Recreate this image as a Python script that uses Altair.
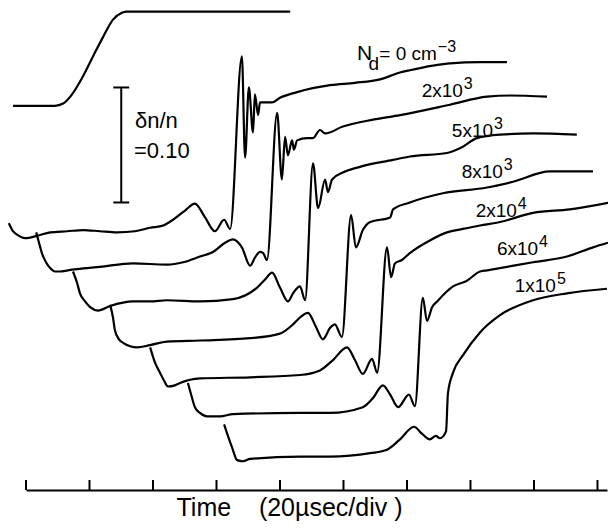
import altair as alt
import pandas as pd

# Time in microseconds (20 us per division), signal in delta n / n,
# each trace displaced vertically as in the original oscillogram stack.

pulse_t = [-4.1, 4.4, 9.1, 11.7, 14.5, 17.6, 21.1, 24.3, 27.4, 30.2, 31.8, 55.0, 83.2]
pulse_s = [0.334, 0.334, 0.334, 0.336, 0.344, 0.358, 0.377, 0.394, 0.409, 0.415, 0.416, 0.416, 0.416]

nd0_t = [-5.4, -4.1, -2.8, -0.3, 3.5, 7.6, 12.9, 18.0, 23.3, 28.7, 34.3, 39.1, 43.2, 46.3, 50.1,
         53.2, 56.4, 59.5, 62.4, 64.3, 68.0, 69.0, 70.2, 71.5, 72.1, 73.1, 73.7, 75.3, 77.5, 80.0,
         85.4, 95.8, 103.6, 111.5, 117.8, 120.9, 128.2, 133.5, 143.0, 151.5]
nd0_s = [0.232, 0.225, 0.222, 0.219, 0.221, 0.224, 0.225, 0.226, 0.225, 0.224, 0.225, 0.228, 0.230,
         0.235, 0.243, 0.249, 0.237, 0.225, 0.235, 0.227, 0.377, 0.289, 0.350, 0.311, 0.344, 0.326,
         0.337, 0.337, 0.337, 0.341, 0.346, 0.352, 0.354, 0.357, 0.363, 0.365, 0.369, 0.371, 0.372,
         0.372]

nd2e3_t = [3.2, 4.1, 5.0, 6.3, 7.6, 9.1, 10.7, 13.2, 16.1, 23.3, 33.7, 44.4, 49.5, 54.8, 58.9,
           62.7, 65.2, 68.0, 70.6, 72.1, 73.7, 74.7, 75.9, 79.1, 80.6, 81.6, 82.5, 83.8, 84.4, 85.4,
           88.5, 90.4, 92.6, 94.2, 99.8, 109.3, 117.8, 133.5, 145.2, 152.4, 164.1]
nd2e3_s = [0.224, 0.215, 0.206, 0.198, 0.193, 0.190, 0.190, 0.191, 0.192, 0.194, 0.197, 0.196,
           0.198, 0.203, 0.207, 0.215, 0.218, 0.211, 0.195, 0.202, 0.207, 0.206, 0.200, 0.328,
           0.270, 0.307, 0.291, 0.304, 0.296, 0.304, 0.306, 0.306, 0.313, 0.310, 0.316, 0.322,
           0.326, 0.335, 0.342, 0.343, 0.342]

nd5e3_t = [14.8, 16.1, 17.0, 18.6, 20.2, 22.7, 26.5, 33.7, 39.1, 44.4, 54.8, 65.2, 72.8, 75.3,
           77.5, 80.0, 82.5, 84.1, 86.3, 87.9, 90.4, 92.0, 94.2, 95.1, 96.4, 99.8, 105.2, 115.6,
           120.9, 132.6, 137.3, 142.0, 149.3, 159.7, 173.5]
nd5e3_s = [0.190, 0.180, 0.171, 0.164, 0.159, 0.156, 0.160, 0.164, 0.164, 0.165, 0.164, 0.166,
           0.176, 0.183, 0.189, 0.176, 0.164, 0.171, 0.177, 0.165, 0.284, 0.245, 0.270, 0.259,
           0.270, 0.276, 0.281, 0.287, 0.290, 0.293, 0.298, 0.306, 0.309, 0.310, 0.309]

nd8e3_t = [26.5, 27.4, 28.0, 29.3, 30.6, 32.8, 35.0, 39.1, 44.4, 54.8, 70.6, 80.0, 84.1, 86.3,
           88.8, 91.3, 93.5, 95.8, 97.3, 99.5, 102.4, 103.9, 106.1, 108.4, 114.7, 115.6, 120.9,
           131.3, 145.2, 153.4, 165.0, 178.6]
nd8e3_s = [0.161, 0.150, 0.139, 0.131, 0.128, 0.125, 0.124, 0.126, 0.129, 0.130, 0.132, 0.136,
           0.144, 0.150, 0.154, 0.142, 0.131, 0.141, 0.144, 0.133, 0.239, 0.211, 0.226, 0.233,
           0.237, 0.244, 0.250, 0.258, 0.263, 0.268, 0.277, 0.277]

nd2e4_t = [39.1, 40.6, 42.2, 43.5, 44.7, 46.9, 48.5, 54.8, 70.6, 86.3, 92.6, 96.7, 101.1, 103.6,
           106.1, 109.0, 110.6, 113.7, 115.0, 116.2, 118.4, 120.9, 127.2, 132.6, 137.6, 143.0,
           149.3, 159.7, 171.3, 183.9]
nd2e4_s = [0.124, 0.111, 0.102, 0.095, 0.090, 0.091, 0.093, 0.097, 0.098, 0.100, 0.104, 0.113,
           0.124, 0.113, 0.101, 0.114, 0.102, 0.211, 0.185, 0.197, 0.200, 0.206, 0.217, 0.224,
           0.227, 0.230, 0.233, 0.241, 0.244, 0.250]

nd6e4_t = [51.0, 52.0, 53.2, 54.8, 57.0, 61.1, 65.2, 86.3, 95.8, 106.1, 109.3, 112.4, 114.7,
           117.2, 120.6, 122.5, 125.0, 126.3, 127.9, 129.5, 134.5, 138.9, 143.0, 145.2, 159.7,
           170.4, 178.6, 183.3]
nd6e4_s = [0.093, 0.083, 0.072, 0.067, 0.064, 0.064, 0.066, 0.067, 0.067, 0.072, 0.080, 0.091,
           0.083, 0.072, 0.083, 0.073, 0.167, 0.147, 0.159, 0.164, 0.177, 0.182, 0.190, 0.191,
           0.198, 0.203, 0.211, 0.215]

nd1e5_t = [62.4, 63.6, 64.9, 66.5, 68.4, 70.6, 86.3, 95.8, 108.4, 113.7, 117.8, 122.2, 124.7,
           127.2, 129.1, 130.4, 132.3, 132.9, 134.5, 137.6, 143.0, 149.3, 159.7, 170.4, 183.0]
nd1e5_s = [0.057, 0.047, 0.037, 0.026, 0.025, 0.027, 0.029, 0.029, 0.032, 0.035, 0.044, 0.055,
           0.049, 0.044, 0.047, 0.045, 0.051, 0.084, 0.102, 0.117, 0.137, 0.152, 0.165, 0.171,
           0.175]

# Trace labels (mantissa, exponent) and their anchor (right end of mantissa, baseline)
label_base = ["= 0 cm", "2x10", "5x10", "8x10", "2x10", "6x10", "1x10"]
label_exp = ["\u22123", "3", "3", "3", "4", "4", "5"]
label_t = [129.4, 137.6, 147.1, 150.2, 154.6, 161.3, 166.9]
label_s = [0.374, 0.342, 0.307, 0.271, 0.237, 0.204, 0.172]

# N_d symbol
sym_text = ["N", "d"]
sym_t = [109.0, 107.9]
sym_s = [0.374, 0.365]

# Scale bar: delta n / n = 0.10
bar_t = 30.0
bar_lo, bar_hi = 0.25, 0.35
bar_cap = 2.5
bar_text = ["\u03b4n/n", "=0.10"]
bar_text_t = [34.3, 34.0]
bar_text_s = [0.315, 0.289]

tick_values = [0, 20, 40, 60, 80, 100, 120, 140, 160, 180]
tick_len = 0.0087
time_max = 183
sig_max = 0.4191

traces = [("pulse", pulse_t, pulse_s), ("0", nd0_t, nd0_s), ("2e3", nd2e3_t, nd2e3_s),
          ("5e3", nd5e3_t, nd5e3_s), ("8e3", nd8e3_t, nd8e3_s), ("2e4", nd2e4_t, nd2e4_s),
          ("6e4", nd6e4_t, nd6e4_s), ("1e5", nd1e5_t, nd1e5_s)]
frames = []
for name, ts, ss in traces:
    f = pd.DataFrame({"t": ts, "s": ss})
    f["trace"] = name
    f["i"] = range(len(f))
    frames.append(f)
df = pd.concat(frames, ignore_index=True)

FONT = "Liberation Sans"
xscale = alt.Scale(domain=[0, time_max], nice=False, zero=False)
yscale = alt.Scale(domain=[0, sig_max], nice=False, zero=False)

xaxis = alt.Axis(title="Time\u00a0\u00a0\u00a0\u00a0(20\u00b5sec/div )", ticks=False, labels=False,
                 grid=False, domain=True, domainColor="black", domainWidth=2,
                 titleFont=FONT, titleFontSize=25, titleFontWeight="normal", titleColor="black",
                 titleX=263, titleY=25, titleAlign="center", titleBaseline="alphabetic")

X = alt.X("t:Q", scale=xscale, axis=xaxis)
Y = alt.Y("s:Q", scale=yscale, axis=None)

lines = alt.Chart(df).mark_line(color="black", strokeWidth=2.2, clip=False,
                                interpolate="monotone", strokeJoin="round").encode(
    x=X, y=Y, detail="trace:N", order="i:Q")

ticks_df = pd.DataFrame({"t": tick_values, "s": [0.0] * len(tick_values),
                         "s2": [tick_len] * len(tick_values)})
ticks = alt.Chart(ticks_df).mark_rule(color="black", strokeWidth=2).encode(
    x=X, y=Y, y2="s2:Q")

bar_v = alt.Chart(pd.DataFrame({"t": [bar_t], "s": [bar_lo], "s2": [bar_hi]})).mark_rule(
    color="black", strokeWidth=2).encode(x=X, y=Y, y2="s2:Q")
bar_caps = alt.Chart(pd.DataFrame({"t": [bar_t - bar_cap] * 2, "t2": [bar_t + bar_cap] * 2,
                                   "s": [bar_lo, bar_hi]})).mark_rule(
    color="black", strokeWidth=2).encode(x=X, x2="t2:Q", y=Y)
bar_lbl = alt.Chart(pd.DataFrame({"t": bar_text_t, "s": bar_text_s, "label": bar_text})).mark_text(
    align="left", baseline="alphabetic", font=FONT, fontSize=22, color="black").encode(
    x=X, y=Y, text="label:N")

lab_df = pd.DataFrame({"t": label_t, "s": label_s, "base": label_base, "exp": label_exp})
base_txt = alt.Chart(lab_df).mark_text(
    align="right", baseline="alphabetic", font=FONT, fontSize=19, color="black").encode(
    x=X, y=Y, text="base:N")
exp_txt = alt.Chart(lab_df).mark_text(
    align="left", baseline="alphabetic", font=FONT, fontSize=16, color="black", dx=1, dy=-8).encode(
    x=X, y=Y, text="exp:N")
sym_df = pd.DataFrame({"t": sym_t, "s": sym_s, "label": sym_text})
sym_N = alt.Chart(sym_df.iloc[[0]]).mark_text(
    align="right", baseline="alphabetic", font=FONT, fontSize=21, color="black").encode(
    x=X, y=Y, text="label:N")
sym_d = alt.Chart(sym_df.iloc[[1]]).mark_text(
    align="left", baseline="alphabetic", font=FONT, fontSize=19, color="black").encode(
    x=X, y=Y, text="label:N")

chart = alt.layer(lines, ticks, bar_v, bar_caps, bar_lbl, base_txt, exp_txt, sym_N, sym_d).properties(
    width=581, height=482,
    autosize=alt.AutoSizeParams(type="none"),
    padding={"left": 18, "top": 0, "right": 1, "bottom": 31},
    background="white",
).configure_view(stroke=None)

chart.save("out.html", embed_options={"renderer": "svg", "actions": False})
